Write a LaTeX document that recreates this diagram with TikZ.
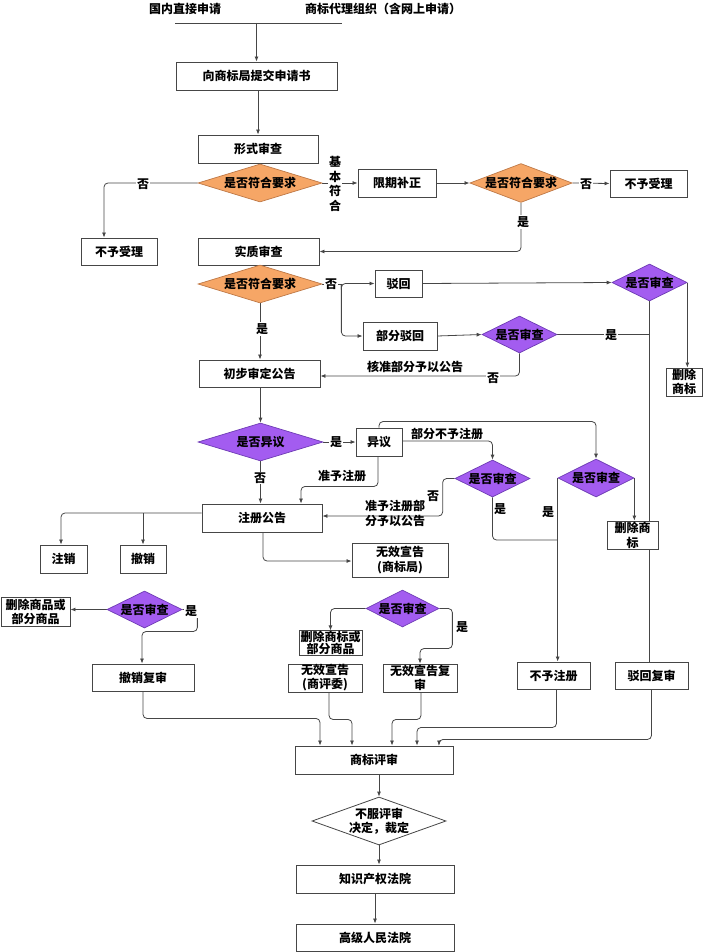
\documentclass[tikz,border=0pt]{standalone}
\usepackage{fontspec}
\setmainfont{Noto Sans CJK SC}
\usetikzlibrary{shapes.geometric,arrows.meta,calc}
\pgfdeclarelayer{bg}
\pgfsetlayers{bg,main}
\definecolor{orng}{RGB}{246,166,102}
\definecolor{orngd}{RGB}{190,120,70}
\definecolor{purp}{RGB}{163,92,240}
\definecolor{purpd}{RGB}{110,60,180}
\definecolor{boxc}{RGB}{70,70,70}
\definecolor{linec}{RGB}{70,70,70}
\begin{document}
\begin{tikzpicture}[x=1pt,y=-1pt,
  font=\fontsize{12}{15}\selectfont\bfseries,
  box/.style={draw=boxc, line width=0.9pt, fill=white, rectangle, inner sep=0pt, align=center},
  odia/.style={diamond, draw=orngd, line width=0.7pt, fill=orng, inner sep=0pt, align=center},
  pdia/.style={diamond, draw=purpd, line width=0.7pt, fill=purp, inner sep=0pt, align=center},
  wdia/.style={diamond, draw=boxc, line width=0.8pt, fill=white, inner sep=0pt, align=center},
  arr/.style={-{Latex[length=5pt,width=4pt]}, draw=linec, line width=0.8pt, rounded corners=4pt},
  ln/.style={draw=linec, line width=0.8pt, rounded corners=4pt},
  lbl/.style={fill=white, inner sep=1pt, align=center},
  txt/.style={inner sep=0pt, align=center}]
\useasboundingbox (0,0) rectangle (703,952);

% sources
\node[txt] (src1) at (185,9) {国内直接申请};
\node[txt] (src2) at (383,9) {商标代理组织（含网上申请）};
\coordinate (tl) at (175,23);
\coordinate (tr) at (342,23);

% boxes
\node[box, minimum width=161pt, minimum height=28pt] (submit) at (256.5,76) {向商标局提交申请书};
\node[box, minimum width=120pt, minimum height=28pt] (xingshi) at (258,149) {形式审查};
\node[box, minimum width=76pt, minimum height=27pt] (buyu1) at (119,251.5) {不予受理};
\node[box, minimum width=78pt, minimum height=28pt] (xianqi) at (397,183) {限期补正};
\node[box, minimum width=77pt, minimum height=27pt] (buyu2) at (648.5,183.5) {不予受理};
\node[box, minimum width=121pt, minimum height=27pt] (shizhi) at (258.5,251.5) {实质审查};
\node[box, minimum width=47pt, minimum height=27pt] (bohui) at (398.5,283.5) {驳回};
\node[box, minimum width=74pt, minimum height=28pt] (bufen) at (400,336) {部分驳回};
\node[box, minimum width=36pt, minimum height=28pt, font=\fontsize{12}{14}\selectfont\bfseries] (shanchu1) at (684,382) {删除\\商标};
\node[box, minimum width=121pt, minimum height=27pt] (chubu) at (259.5,373.5) {初步审定公告};
\node[box, minimum width=46pt, minimum height=28pt] (yiyi) at (379,442) {异议};
\node[box, minimum width=120pt, minimum height=28pt] (zhuce) at (262,518) {注册公告};
\node[box, minimum width=47pt, minimum height=28pt] (zhuxiao) at (63.5,559) {注销};
\node[box, minimum width=46pt, minimum height=28pt] (chexiao) at (143,559) {撤销};
\node[box, minimum width=96pt, minimum height=34pt] (wuxiao1) at (400,560) {无效宣告\\(商标局)};
\node[box, minimum width=51pt, minimum height=28pt] (shanchu2) at (632.5,535) {删除商\\标};
\node[box, minimum width=69pt, minimum height=29pt, font=\fontsize{12}{14}\selectfont\bfseries] (shanchusp) at (35.5,611.5) {删除商品或\\部分商品};
\node[box, minimum width=102pt, minimum height=27pt] (chexiaofs) at (143,677.5) {撤销复审};
\node[box, minimum width=63pt, minimum height=24pt, font=\fontsize{12}{12.5}\selectfont\bfseries] (shanchusb) at (330.5,643) {删除商标或\\部分商品};
\node[box, minimum width=74pt, minimum height=28pt, font=\fontsize{12}{14}\selectfont\bfseries] (wuxiao2) at (325,678) {无效宣告\\(商评委)};
\node[box, minimum width=74pt, minimum height=28pt, font=\fontsize{12}{14}\selectfont\bfseries] (wuxiaofs) at (420,678) {无效宣告复\\审};
\node[box, minimum width=73pt, minimum height=27pt] (buyuzc) at (553.5,675.5) {不予注册};
\node[box, minimum width=73pt, minimum height=27pt] (bohuifs) at (651.5,675.5) {驳回复审};
\node[box, minimum width=158pt, minimum height=28pt] (spj) at (374,760) {商标评审};
\node[box, minimum width=158pt, minimum height=28pt] (zscq) at (375,879) {知识产权法院};
\node[box, minimum width=158pt, minimum height=27pt] (gaoji) at (375,937.5) {高级人民法院};

% diamonds
\node[odia, minimum width=124pt, minimum height=38pt, aspect=3.26] (d1) at (260,183) {是否符合要求};
\node[odia, minimum width=100pt, minimum height=38pt, aspect=2.63] (d2) at (521,183) {是否符合要求};
\node[odia, minimum width=124pt, minimum height=38pt, aspect=3.26] (d3) at (260,284) {是否符合要求};
\node[pdia, minimum width=75pt, minimum height=37pt, aspect=2.03] (d4) at (649.5,282.5) {是否审查};
\node[pdia, minimum width=75pt, minimum height=37pt, aspect=2.03] (d5) at (519.5,334.5) {是否审查};
\node[pdia, minimum width=125pt, minimum height=38pt, aspect=3.29] (d6) at (260.5,442) {是否异议};
\node[pdia, minimum width=75pt, minimum height=37pt, aspect=2.03] (d7) at (492.5,478.5) {是否审查};
\node[pdia, minimum width=76pt, minimum height=38pt, aspect=2] (d8) at (596,478) {是否审查};
\node[pdia, minimum width=75pt, minimum height=37pt, aspect=2.03] (d9) at (144.5,609.5) {是否审查};
\node[pdia, minimum width=73pt, minimum height=37pt, aspect=1.97] (d10) at (402.5,608.5) {是否审查};
\node[wdia, minimum width=134pt, minimum height=48pt, aspect=2.8, font=\fontsize{12}{14}\selectfont\bfseries] (d11) at (379,821) {不服评审\\决定，裁定};

% labels
\node[lbl] (l1) at (143,184) {否};
\node[lbl, font=\fontsize{12}{14.5}\selectfont\bfseries] (l2) at (335,184) {基\\本\\符\\合};
\node[lbl] (l3) at (586,184) {否};
\node[lbl] (l4) at (523,222) {是};
\node[lbl] (l5) at (331,284) {否};
\node[lbl] (l6) at (611,335) {是};
\node[txt] (l7) at (415,367) {核准部分予以公告};
\node[lbl] (l8) at (493,378) {否};
\node[lbl] (l9) at (262,329) {是};
\node[lbl] (l10) at (336,442) {是};
\node[lbl] (l11) at (260,478) {否};
\node[txt] (l12) at (342,476) {准予注册};
\node[txt] (l13) at (447,434) {部分不予注册};
\node[txt] (l14) at (433,496) {否};
\node[txt] (l15) at (395,513) {准予注册部\\分予以公告};
\node[txt] (l16) at (500,509) {是};
\node[txt] (l17) at (548,512) {是};
\node[lbl] (l18) at (191,611) {是};
\node[txt] (l19) at (462,627) {是};

\coordinate (zw) at ([yshift=5pt]zhuce.west);

\begin{pgfonlayer}{bg}
\draw[ln] (tl) -- (tr);
\draw[arr] (submit.north |- tl) -- (submit.north);
\draw[arr] (submit.south -| xingshi.north) -- (xingshi.north);
\draw[arr] (d1.west) -| ([xshift=-15pt]buyu1.north);
\draw[arr] (d1.east) -- (xianqi.west);
\draw[arr] (xianqi.east) -- (d2.west);
\draw[arr] (d2.east) -- (buyu2.west);
\draw[arr] (d2.south) |- (shizhi.east);
\draw[ln] (d3.east) -- ++(19,0);
\draw[arr] ([xshift=19pt]d3.east) |- (bohui.west);
\draw[arr] ([xshift=19pt]d3.east) |- (bufen.west);
\draw[arr] (bohui.east) -- (d4.west);
\draw[arr] (d4.east) -- (d4.east |- shanchu1.north);
\draw[ln] (d4.south) -- (d4.south |- bohuifs.north);
\draw[arr] (bufen.east) -- (d5.west);
\draw[ln] (d5.east) -- (d5.east -| d4.south);
\draw[arr] (d5.south) |- ([yshift=-2.5pt]chubu.east);
\draw[arr] (d3.south) -- (d3.south |- chubu.north);
\draw[arr] (chubu.south -| d6.north) -- (d6.north);
\draw[arr] (d6.east) -- (yiyi.west);
\draw[arr] (d6.south) -- (d6.south |- zhuce.north);
\draw[arr] ([xshift=-1pt]yiyi.south) -- ++(0,30) -| ([xshift=39pt]zhuce.north);
\draw[arr] (yiyi.north) -- ++(0,-6) -| (d8.north);
\draw[arr] ([yshift=1pt]yiyi.east) -| (d7.north);
\draw[arr] (d7.west) -- ++(-12,0) |- ([yshift=2pt]zhuce.east);
\draw[ln] (d7.south) |- ([yshift=-62pt]d8.west);
\draw[arr] (d8.west) -- (d8.west |- buyuzc.north);
\draw[arr] (d8.east) -- (d8.east |- shanchu2.north);
\draw[arr] (zw) -| ([xshift=-2.5pt]zhuxiao.north);
\draw[arr] (zw -| chexiao.north) -- (chexiao.north);
\draw[arr] ([xshift=1pt]zhuce.south) |- ([yshift=-1pt]wuxiao1.west);
\draw[arr] (d9.west) -- (d9.west -| shanchusp.east);
\draw[arr] (d9.east) -- ++(15,0) -- ++(0,22) -| ([xshift=-1pt]chexiaofs.north);
\draw[arr] (d10.west) -| (shanchusb.north);
\draw[arr] (d10.east) -- ++(13,0) -- ++(0,40) -| (wuxiaofs.north);
\draw[arr] (chexiaofs.south) -- ++(0,27) -| ([xshift=-54pt]spj.north);
\draw[arr] ([xshift=4pt]wuxiao2.south) -- ++(0,27) -| ([xshift=-22pt]spj.north);
\draw[arr] ([xshift=1pt]wuxiaofs.south) -- ++(0,27) -| ([xshift=18pt]spj.north);
\draw[arr] ([xshift=3pt]buyuzc.south) -- ++(0,38) -| ([xshift=43pt]spj.north);
\draw[arr] (bohuifs.south) -- ++(0,50) -| ([xshift=65pt]spj.north);
\draw[arr] (d11.north |- spj.south) -- (d11.north);
\draw[arr] (d11.south) -- (d11.south |- zscq.north);
\draw[arr] (zscq.south) -- (gaoji.north);
\end{pgfonlayer}
\end{tikzpicture}
\end{document}
